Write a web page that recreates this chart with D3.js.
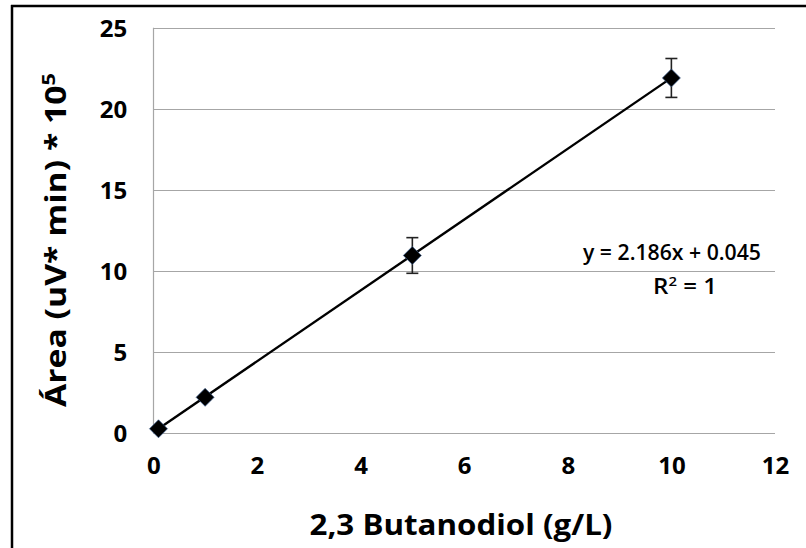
<!DOCTYPE html>
<html>
<head>
<meta charset="utf-8">
<script src="https://cdn.jsdelivr.net/npm/d3@7"></script>
<style>
  html, body { margin: 0; padding: 0; background: #fff; }
  svg { display: block; }
  text { font-family: "Open Sans", "Noto Sans", sans-serif; fill: #000; }
</style>
</head>
<body>
<svg id="chart" width="806" height="548"></svg>
<script>
// Calibration data: 2,3-butanediol concentration vs. peak area
const concentration = [0.1, 1, 5, 10];          // g/L
const area = [0.26, 2.2, 10.95, 21.9];          // uV*min x 10^5
const areaError = [0.1, 0.15, 1.1, 1.2];
const xTicks = [0, 2, 4, 6, 8, 10, 12];
const yTicks = [0, 5, 10, 15, 20, 25];
const slope = 2.186, intercept = 0.045;

const svg = d3.select("#chart");
const W = 806, H = 548;
const margin = { left: 153.3, right: W - 775, top: 27.7, bottom: H - 433 };

const x = d3.scaleLinear().domain([0, 12]).range([margin.left, W - margin.right]);
const y = d3.scaleLinear().domain([0, 25]).range([H - margin.bottom, margin.top]);

// outer frame (left and top edges)
svg.append("line").attr("x1", 12).attr("x2", 12).attr("y1", 5).attr("y2", H)
  .attr("stroke", "#000").attr("stroke-width", 2.5);
svg.append("line").attr("x1", 11).attr("x2", W).attr("y1", 6).attr("y2", 6)
  .attr("stroke", "#000").attr("stroke-width", 2.5);

// horizontal gridlines
svg.append("g").selectAll("line").data(yTicks).join("line")
  .attr("x1", x(0)).attr("x2", x(12))
  .attr("y1", d => Math.round(y(d)) + 0.5).attr("y2", d => Math.round(y(d)) + 0.5)
  .attr("stroke", "#a6a6a6").attr("stroke-width", 1.2);

// y axis line
svg.append("line").attr("x1", Math.round(x(0)) + 0.5).attr("x2", Math.round(x(0)) + 0.5)
  .attr("y1", y(25)).attr("y2", y(0))
  .attr("stroke", "#a6a6a6").attr("stroke-width", 1.2);

// axes labels via d3 axes (domain and ticks hidden)
const yAxis = svg.append("g").attr("transform", `translate(${x(0)},0)`)
  .call(d3.axisLeft(y).tickValues(yTicks).tickSize(0).tickPadding(26));
const xAxis = svg.append("g").attr("transform", `translate(0,${y(0)})`)
  .call(d3.axisBottom(x).tickValues(xTicks).tickSize(0).tickPadding(35));
[yAxis, xAxis].forEach(g => {
  g.attr("font-size", 25).attr("font-family", "'Open Sans', sans-serif");
  g.select(".domain").remove();
  g.selectAll("text").style("font-size", "24px").style("font-weight", "bold").attr("fill", "#000");
});
yAxis.selectAll("text").attr("dy", "0.36em");
xAxis.selectAll("text").attr("dy", "0.25em");

// trendline over the data range
const x0 = d3.min(concentration), x1 = d3.max(concentration);
svg.append("line")
  .attr("x1", x(x0)).attr("y1", y(slope * x0 + intercept))
  .attr("x2", x(x1)).attr("y2", y(slope * x1 + intercept))
  .attr("stroke", "#000").attr("stroke-width", 2.4);

const pts = concentration.map((c, i) => ({ c, a: area[i], e: areaError[i] }));

// error bars
const eb = svg.append("g").attr("stroke", "#222").attr("stroke-width", 1.6);
pts.forEach(p => {
  const cx = x(p.c);
  eb.append("line").attr("x1", cx).attr("x2", cx).attr("y1", y(p.a - p.e)).attr("y2", y(p.a + p.e));
  eb.append("line").attr("x1", cx - 6).attr("x2", cx + 6).attr("y1", y(p.a - p.e)).attr("y2", y(p.a - p.e));
  eb.append("line").attr("x1", cx - 6).attr("x2", cx + 6).attr("y1", y(p.a + p.e)).attr("y2", y(p.a + p.e));
});

// diamond markers
const r = 9;
svg.append("g").selectAll("path").data(pts).join("path")
  .attr("d", p => {
    const cx = x(p.c), cy = y(p.a);
    return `M${cx},${cy - r}L${cx + r},${cy}L${cx},${cy + r}L${cx - r},${cy}Z`;
  })
  .attr("fill", "#000").attr("stroke", "#3b5c8c").attr("stroke-width", 0.7);

// regression equation
svg.append("text").attr("x", 761).attr("y", 260).attr("text-anchor", "end")
  .attr("font-size", 21).attr("font-weight", 600)
  .text(`y = ${slope.toFixed(3)}x + ${intercept.toFixed(3)}`)
  .attr("textLength", 178).attr("lengthAdjust", "spacingAndGlyphs");
const r2 = svg.append("text").attr("x", 685).attr("y", 294).attr("text-anchor", "middle")
  .attr("font-size", 21).attr("font-weight", 600)
  .attr("textLength", 64).attr("lengthAdjust", "spacingAndGlyphs");
r2.append("tspan").text("R");
r2.append("tspan").attr("font-size", 13).attr("dy", -8).text("2");
r2.append("tspan").attr("dy", 8).text(" = 1");

// x axis title
svg.append("text").attr("x", 461).attr("y", 535).attr("text-anchor", "middle")
  .attr("font-size", 28).attr("font-weight", "bold")
  .attr("textLength", 303).attr("lengthAdjust", "spacingAndGlyphs")
  .text("2,3 Butanodiol (g/L)");

// y axis title
const yt = svg.append("text")
  .attr("transform", "translate(66,240) rotate(-90)")
  .attr("text-anchor", "middle")
  .attr("font-size", 28).attr("font-weight", "bold")
  .attr("textLength", 334).attr("lengthAdjust", "spacingAndGlyphs");
yt.append("tspan").text("Área (uV* min) * 10");
yt.append("tspan").attr("font-size", 18).attr("dy", -11).text("5");
</script>
</body>
</html>
